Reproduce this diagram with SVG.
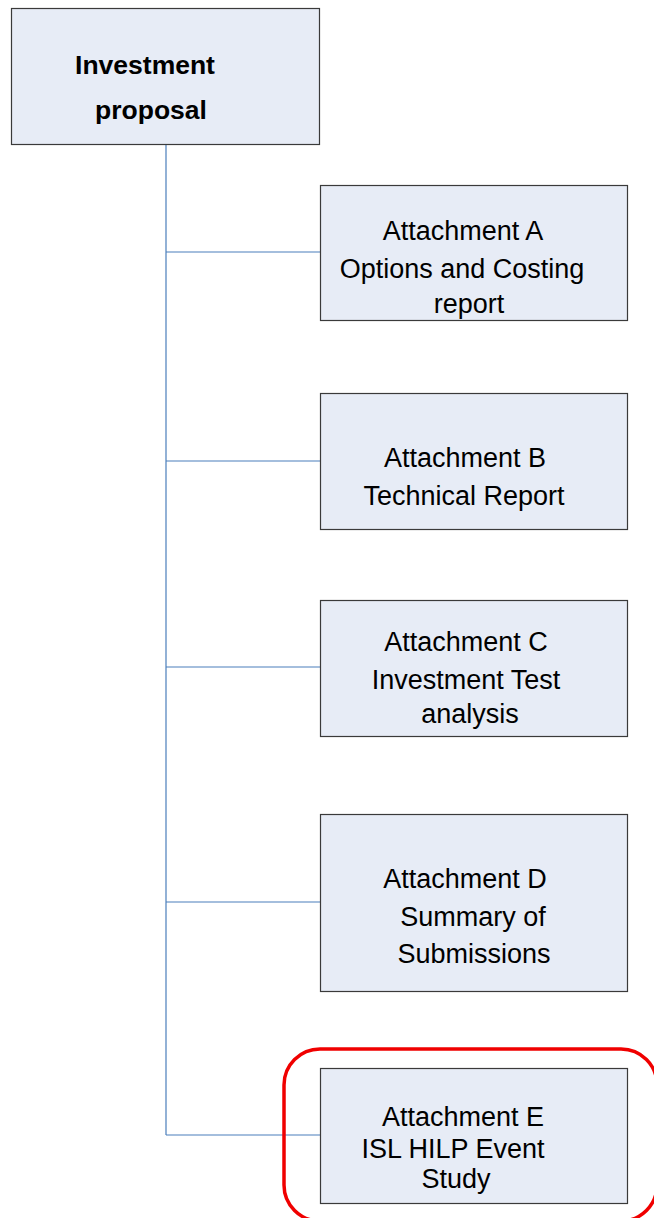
<svg xmlns="http://www.w3.org/2000/svg" width="654" height="1218" viewBox="0 0 654 1218">
<style>
.box{fill:#E7ECF6;stroke:#3a3a3a;stroke-width:1.2}
.t{font-family:"Liberation Sans",Arial,sans-serif;font-size:27px;fill:#000;text-anchor:middle}
.b{font-weight:bold;font-size:26.5px}
.c{stroke:#4A7EBB;stroke-width:1.2;fill:none}
</style>
<rect width="654" height="1218" fill="#fff"/>
<g id="connectors">
<line class="c" x1="166" y1="144" x2="166" y2="1135"/>
<line class="c" x1="166" y1="252" x2="320" y2="252"/>
<line class="c" x1="166" y1="461" x2="320" y2="461"/>
<line class="c" x1="166" y1="667" x2="320" y2="667"/>
<line class="c" x1="166" y1="902" x2="320" y2="902"/>
<line class="c" x1="166" y1="1135" x2="320" y2="1135"/>
</g>
<g id="proposal">
<rect class="box" x="11.5" y="8.5" width="308" height="136"/>
<text class="t b" x="145" y="74">Investment</text>
<text class="t b" x="151" y="119">proposal</text>
</g>
<g id="attA">
<rect class="box" x="320.5" y="185.5" width="307" height="135"/>
<text class="t" x="463" y="240">Attachment A</text>
<text class="t" x="462" y="278">Options and Costing</text>
<text class="t" x="469" y="313">report</text>
</g>
<g id="attB">
<rect class="box" x="320.5" y="393.5" width="307" height="136"/>
<text class="t" x="465" y="467">Attachment B</text>
<text class="t" x="464" y="505">Technical Report</text>
</g>
<g id="attC">
<rect class="box" x="320.5" y="600.5" width="307" height="136"/>
<text class="t" x="466" y="651">Attachment C</text>
<text class="t" x="466" y="689">Investment Test</text>
<text class="t" x="470" y="723">analysis</text>
</g>
<g id="attD">
<rect class="box" x="320.5" y="814.5" width="307" height="177"/>
<text class="t" x="465" y="888">Attachment D</text>
<text class="t" x="473" y="926">Summary of</text>
<text class="t" x="474" y="963">Submissions</text>
</g>
<g id="attE">
<rect class="box" x="320.5" y="1068.5" width="307" height="135"/>
<text class="t" x="463" y="1126">Attachment E</text>
<text class="t" x="453" y="1158">ISL HILP Event</text>
<text class="t" x="456" y="1188">Study</text>
</g>
<g id="highlight">
<rect x="284" y="1049" width="373" height="172" rx="36" ry="36" fill="none" stroke="#F00000" stroke-width="3.5"/>
</g>
</svg>
